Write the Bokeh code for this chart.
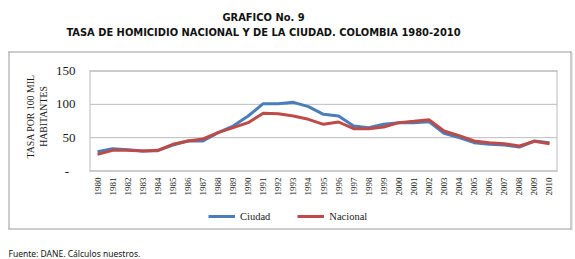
import math
from bokeh.plotting import figure
from bokeh.models import ColumnDataSource, Range1d, Legend, LegendItem
from bokeh.core.properties import value
from bokeh.embed import file_html
from bokeh.resources import INLINE

years = list(range(1980, 2011))
year_labels = [str(y) for y in years]
ciudad = [29, 33.5, 32, 30, 30.5, 39, 45, 45, 57.5, 67.5, 82.5, 101, 101, 103, 96.5, 85,
          82.5, 67.5, 65, 70, 72.5, 72.5, 74, 56.5, 50, 42.5, 40, 39, 36, 45, 42.5]
nacional = [25, 31, 31, 30, 31, 40, 45, 48, 57.5, 65, 72.5, 86.5, 86, 82.5, 77.5, 70,
            73.5, 63.5, 63.5, 66, 72.5, 74.5, 77, 60, 53, 45, 42.5, 41, 37.5, 44.5, 41]
y_ticks = [0, 50, 100, 150]
y_tick_labels = ["-\u00a0\u00a0", "50", "100", "150"]
series_names = ["Ciudad", "Nacional"]
title_lines = ["GRAFICO No. 9", "TASA DE HOMICIDIO NACIONAL Y DE LA CIUDAD. COLOMBIA 1980-2010"]
y_title_lines = ["TASA POR 100 MIL", "HABITANTES"]
footer = "Fuente: DANE. Cálculos nuestros."

BLUE = "#4a7ebb"
RED = "#be4b48"
GRID = "#bcbcbc"
BOX = "#9c9c9c"
TXT = "#1a1a1a"
SERIF = "Liberation Serif"
SANS_BOLD = "Liberation Sans Narrow, DejaVu Sans Condensed, Noto Sans"

W, H = 575, 259


def Y(py):
    """page pixel row (from top) -> layout coordinate (from bottom)"""
    return H - py


def lin_range(v0, p0, v1, p1, pmax):
    s = (v1 - v0) / (p1 - p0)
    return Range1d(v0 + (0 - p0) * s, v0 + (pmax - p0) * s)


def frame_strips(l, r, t, b, w=1):
    """four thin filled strips (page pixels) forming a rectangle outline"""
    return dict(left=[l, r - w, l, l], right=[l + w, r, r, r],
                top=[Y(t), Y(t), Y(t), Y(b - w)], bottom=[Y(b), Y(b), Y(t + w), Y(b)])


# plot area in page pixels
PL, PR, PT, PB = 89.5, 556.5, 70.5, 170.5
step = (PR - PL) / len(years)

p = figure(width=W, height=H, output_backend="svg", toolbar_location=None,
           x_range=Range1d(0, W), y_range=Range1d(0, H),
           x_axis_type=None, y_axis_type=None,
           min_border=0, min_border_left=0, min_border_right=0,
           min_border_top=0, min_border_bottom=0)
p.grid.visible = False
p.outline_line_color = None
p.background_fill_color = "white"
p.border_fill_color = "white"

# value scales for the chart (library ranges, mapped onto the plot area)
p.extra_x_ranges = {"yr": lin_range(years[0], PL + step / 2, years[-1], PR - step / 2, W)}
p.extra_y_ranges = {"val": lin_range(0, Y(PB), 150, Y(PT), H)}

# outer frame box (thin filled strips) plus a light shadow on the right
p.quad(**frame_strips(8, 571, 51, 229), fill_color=BOX, line_color=None)
p.quad(left=[571], right=[572], top=[Y(52)], bottom=[Y(230)], fill_color="#cdcdcd",
       line_color=None)
# plot-area border
p.quad(**frame_strips(89, 557, 70, 171), fill_color=GRID, line_color=None)

# grid lines
p.segment(x0=PL, x1=PR, y0=y_ticks, y1=y_ticks, y_range_name="val",
          line_color=GRID, line_width=1)

# data lines
src = ColumnDataSource(dict(year=years, ciudad=ciudad, nacional=nacional))
r1 = p.line("year", "ciudad", source=src, x_range_name="yr", y_range_name="val",
            line_color=BLUE, line_width=3)
r2 = p.line("year", "nacional", source=src, x_range_name="yr", y_range_name="val",
            line_color=RED, line_width=3)

# y tick labels
p.text(x=75, y=y_ticks, text=y_tick_labels, y_range_name="val",
       text_align="right", text_baseline="middle",
       text_font=value(SERIF), text_font_size="13px", text_color=TXT)
# x tick labels (vertical)
p.text(x=years, y=Y(177), text=year_labels, x_range_name="yr", angle=math.pi / 2,
       text_align="right", text_baseline="middle",
       text_font=value(SERIF), text_font_size="9px", text_color=TXT)

# y axis title (two lines)
p.text(x=[30, 43], y=Y(116), text=y_title_lines, angle=math.pi / 2,
       text_align="center", text_baseline="middle",
       text_font=value(SERIF), text_font_size="9.8px", text_color=TXT)

# titles
p.text(x=[263, 263], y=[Y(16.5), Y(32)], text=title_lines, text_align="center",
       text_baseline="alphabetic", text_font=value(SANS_BOLD), text_font_style="bold",
       text_font_size="11px", text_color="#111111")

# footer
p.text(x=[8], y=[Y(253)], text=[footer], text_align="left", text_baseline="alphabetic",
       text_font=value("Noto Sans"), text_font_size="8.5px", text_color="#111111")

legend = Legend(items=[LegendItem(label=series_names[0], renderers=[r1]),
                       LegendItem(label=series_names[1], renderers=[r2])],
                orientation="horizontal", location=(208, Y(222)),
                glyph_width=27, glyph_height=12, label_height=12, label_standoff=5,
                spacing=27, padding=0, margin=0, border_line_color=None,
                background_fill_color=None,
                label_text_font=SERIF, label_text_font_size="10.5px",
                label_text_color=TXT)
p.add_layout(legend, "center")

open("out.html", "w").write(file_html(p, INLINE))
